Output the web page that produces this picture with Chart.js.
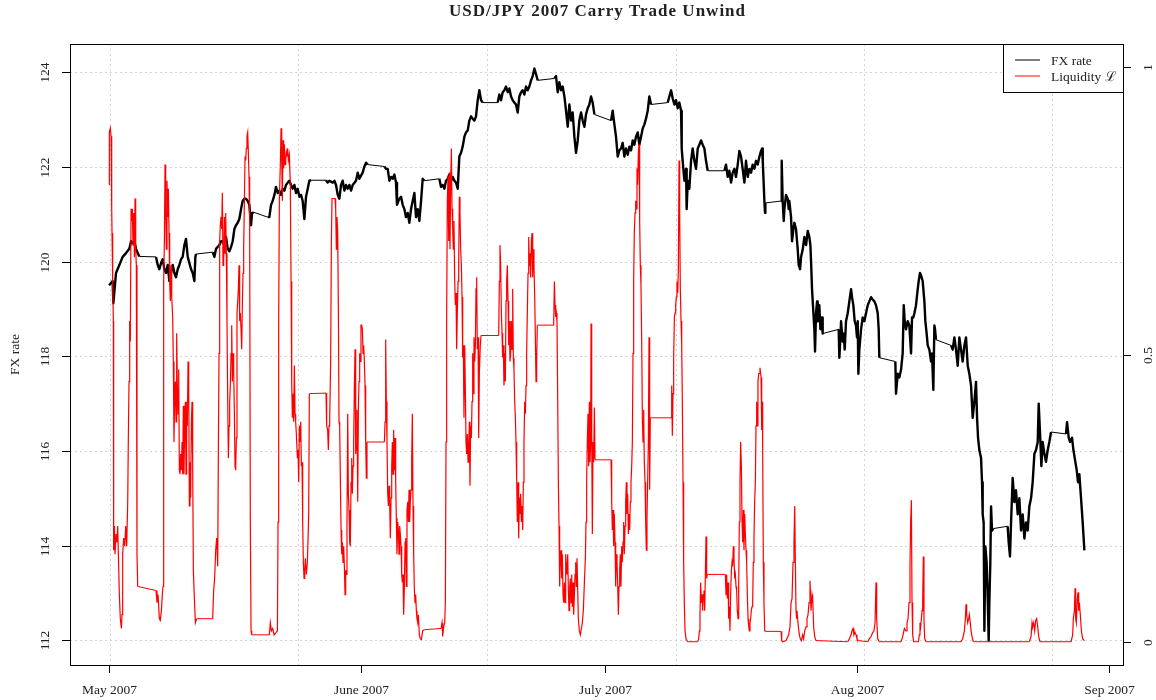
<!DOCTYPE html>
<html>
<head>
<meta charset="utf-8">
<title>USD/JPY 2007 Carry Trade Unwind</title>
<script src="https://cdn.jsdelivr.net/npm/chart.js@4.4.1/dist/chart.umd.min.js"></script>
<style>
  html, body { margin: 0; padding: 0; background: #fff; }
  #wrap { width: 1156px; height: 700px; }
</style>
</head>
<body>
<div id="wrap"><canvas id="fxChart" width="1156" height="700"></canvas></div>
<script>
// days since 1 May 2007 (weekends show up as straight joins)
const fxDays = [
  0.00,0.45,0.53,0.86,1.27,1.68,2.09,2.50,2.71,2.91,3.12,3.32,3.53,3.73,5.78,5.99,6.19,6.40,6.60,6.81,
  7.01,7.22,7.42,7.63,7.83,8.04,8.24,8.45,8.65,8.86,9.06,9.27,9.47,9.68,9.88,10.09,10.29,10.50,10.62,10.70,
  12.75,12.96,13.16,13.57,13.78,13.98,14.19,14.39,14.60,14.80,15.01,15.21,15.42,15.62,15.83,16.03,16.24,16.44,16.65,16.85,
  17.06,17.26,17.47,17.59,17.67,19.52,19.72,19.93,20.13,20.34,20.54,20.75,20.95,21.16,21.36,21.57,21.77,21.98,22.18,22.39,
  22.59,22.80,23.00,23.21,23.41,23.62,23.82,24.03,24.23,24.44,24.64,24.85,26.69,26.89,27.10,27.51,27.72,27.92,28.13,28.33,
  28.54,28.74,28.95,29.15,29.36,29.56,29.77,29.97,30.38,30.59,30.79,31.20,31.41,31.61,31.82,33.87,34.07,34.28,34.48,34.69,
  34.89,35.10,35.30,35.42,35.71,35.92,36.12,36.33,36.53,36.74,36.94,37.15,37.35,37.56,37.76,37.97,38.17,38.38,38.58,38.79,
  40.63,40.83,41.04,41.25,41.45,41.66,41.86,42.07,42.27,42.48,42.68,42.89,43.09,43.30,43.50,43.71,43.91,44.12,44.32,44.53,
  44.73,44.94,45.14,45.35,45.55,45.76,45.96,47.81,48.01,48.22,48.42,48.63,48.83,49.04,49.24,49.45,49.65,49.86,50.06,50.27,
  50.47,50.68,50.88,51.09,51.29,51.50,51.70,51.91,52.11,52.32,52.52,52.73,54.78,54.98,55.19,55.39,55.60,55.80,56.01,56.21,
  56.42,56.62,56.83,57.03,57.24,57.44,57.65,57.85,58.06,58.26,58.47,58.67,58.88,59.08,59.29,59.49,59.70,61.75,61.95,62.16,
  62.36,62.57,62.77,62.98,63.18,63.39,63.59,63.80,64.00,64.21,64.41,64.62,64.82,65.03,65.23,65.44,65.64,65.85,66.05,66.26,
  66.46,66.67,68.72,68.92,69.13,69.33,69.54,69.74,69.95,70.15,70.36,70.44,70.56,70.77,70.97,71.05,71.18,71.38,71.59,71.79,
  72.00,72.20,72.41,72.61,72.82,73.02,73.23,73.43,73.64,75.69,75.89,76.10,76.30,76.51,76.71,76.92,77.12,77.33,77.53,77.74,
  77.94,78.15,78.35,78.56,78.76,78.97,79.17,79.38,79.58,79.79,80.00,80.20,80.33,80.41,80.49,80.61,80.69,80.73,82.66,82.74,
  82.86,82.99,83.07,83.27,83.48,83.60,83.68,83.89,84.01,84.18,84.30,84.50,84.71,84.83,85.00,85.12,85.33,85.53,85.74,85.94,
  86.14,86.27,86.35,86.47,86.64,86.76,86.84,86.96,87.09,87.17,87.29,87.37,87.50,87.58,87.70,87.78,89.75,89.83,89.96,90.04,
  90.24,90.37,90.49,90.65,90.86,91.06,91.27,91.39,91.55,91.72,91.88,92.00,92.09,92.17,92.29,92.50,92.70,92.91,93.11,93.32,
  93.52,93.73,93.93,94.14,94.34,94.55,94.67,94.75,96.72,96.80,97.01,97.21,97.42,97.62,97.75,97.87,98.03,98.24,98.44,98.65,
  98.77,98.93,99.06,99.26,99.47,99.59,99.75,99.88,100.08,100.29,100.41,100.57,100.70,100.90,101.11,101.23,101.39,101.52,101.60,101.72,
  103.57,103.77,103.98,104.18,104.39,104.59,104.80,105.00,105.21,105.41,105.62,105.82,106.03,106.23,106.44,106.64,106.77,106.89,107.05,107.26,
  107.38,107.46,107.58,107.67,107.79,107.95,108.08,108.20,108.28,108.40,108.49,108.61,108.77,110.53,110.66,110.82,110.95,111.15,111.36,111.56,
  111.77,111.97,112.18,112.38,112.59,112.79,113.00,113.20,113.41,113.61,113.82,114.02,114.23,114.35,114.52,114.68,114.84,115.05,115.25,115.46,
  115.66,115.87,117.71,117.84,118.04,118.21,118.45,118.62,118.86,119.02,119.19,119.35,119.56,119.76,119.97
];
const fxRate = [
  119.50,119.59,119.12,119.76,119.93,120.10,120.18,120.27,120.43,120.39,120.43,120.27,120.18,120.11,120.10,119.93,119.84,119.97,120.05,119.84,
  119.76,119.93,119.59,119.76,119.93,119.76,119.67,119.84,119.93,120.05,120.10,120.35,120.48,120.10,119.97,119.84,119.76,119.59,120.10,120.16,
  120.20,120.10,120.27,120.35,120.43,120.43,120.35,120.52,120.27,120.22,120.31,120.43,120.69,120.77,120.82,120.90,121.11,121.28,121.33,121.33,
  121.28,121.20,120.77,121.03,121.05,120.94,120.94,121.20,121.28,121.41,121.58,121.45,121.50,121.41,121.54,121.50,121.62,121.67,121.71,121.62,
  121.54,121.62,121.45,121.54,121.37,121.41,121.28,120.90,121.37,121.54,121.71,121.72,121.72,121.67,121.71,121.67,121.71,121.62,121.41,121.33,
  121.62,121.71,121.50,121.62,121.54,121.62,121.50,121.62,121.71,121.88,121.75,121.88,122.01,122.09,122.05,122.01,121.96,121.96,121.71,121.79,
  121.75,121.84,121.67,121.20,121.33,121.37,121.20,121.11,120.94,121.03,120.82,121.11,121.28,121.45,120.94,121.11,120.86,121.28,121.75,121.71,
  121.75,121.58,121.62,121.54,121.71,121.75,121.84,121.71,121.79,121.71,121.67,121.54,122.22,122.30,122.43,122.64,122.73,122.77,122.98,123.07,
  123.02,122.98,123.07,123.41,123.62,123.41,123.36,123.36,123.53,123.41,123.58,123.62,123.70,123.58,123.66,123.49,123.41,123.36,123.32,123.15,
  123.49,123.58,123.62,123.53,123.70,123.62,123.70,123.83,123.92,124.08,123.96,123.83,123.87,123.92,123.58,123.79,123.62,123.70,123.49,123.19,
  122.85,123.32,122.98,123.15,122.64,122.30,122.56,122.98,123.15,122.98,122.85,123.11,123.24,123.32,123.49,123.36,123.11,122.98,123.19,122.90,
  122.64,122.22,122.35,122.39,122.51,122.22,122.39,122.26,122.43,122.35,122.56,122.47,122.64,122.73,122.47,122.64,122.81,122.90,123.02,123.19,
  123.49,123.32,123.36,123.49,123.62,123.45,123.32,123.41,123.24,123.36,123.19,122.39,122.13,121.71,121.96,121.11,121.71,121.54,122.13,122.39,
  122.13,121.96,122.39,122.47,122.56,122.47,122.39,122.13,121.92,121.92,122.05,121.79,121.92,121.67,121.88,121.96,121.79,122.05,122.34,122.22,
  121.96,121.67,122.13,121.79,121.96,121.88,122.05,121.96,122.13,122.05,122.22,122.34,122.39,122.13,121.79,121.28,121.03,121.24,121.28,122.13,
  121.28,120.86,121.11,121.41,121.33,121.11,121.28,120.94,120.43,120.69,120.82,120.69,120.26,119.93,119.84,120.10,120.26,120.52,120.35,120.65,
  120.52,120.35,120.01,119.42,118.91,118.57,118.10,118.91,119.16,118.74,118.82,119.08,118.57,118.74,118.82,118.48,118.57,117.97,118.40,118.74,
  118.31,118.48,118.14,118.74,118.91,119.16,119.42,119.25,119.08,118.74,118.65,118.40,118.74,117.63,118.14,118.57,118.82,118.74,118.91,119.08,
  119.16,119.25,119.20,119.16,119.08,118.91,118.57,117.97,117.89,117.21,117.63,117.55,117.72,118.06,119.08,118.74,118.57,118.74,118.65,118.06,
  118.82,118.82,118.91,119.08,119.42,119.59,119.76,119.71,119.59,119.16,118.74,118.48,118.23,118.14,117.89,118.06,117.29,118.65,118.57,118.35,
  118.23,118.14,118.40,118.14,117.80,118.40,118.14,117.89,118.23,118.40,117.80,117.63,117.38,116.70,117.04,117.46,116.70,116.28,116.02,115.85,
  115.34,114.66,114.49,112.20,113.98,113.64,112.88,111.99,112.79,113.64,114.83,114.32,114.36,114.41,114.07,113.77,114.49,115.43,114.92,115.17,
  114.66,115.00,114.32,114.66,114.15,114.49,114.32,114.83,115.00,115.34,115.94,116.02,116.19,117.00,116.36,115.68,116.19,115.94,115.77,116.02,
  116.19,116.40,116.36,116.61,116.28,116.19,116.28,116.02,115.77,115.60,115.34,115.51,115.00,114.49,113.90
];

const liqDays = [
  0.00,0.04,0.16,0.25,0.33,0.37,0.45,0.53,0.57,0.66,0.74,0.86,0.98,1.07,1.15,1.27,1.39,1.52,1.60,1.68,
  1.80,1.93,2.05,2.17,2.30,2.38,2.46,2.54,2.62,2.71,2.79,2.87,2.95,3.03,3.12,3.20,3.28,3.36,3.44,3.53,
  5.78,5.90,6.03,6.19,6.31,6.44,6.56,6.64,6.72,6.81,6.89,6.97,7.05,7.13,7.22,7.30,7.38,7.46,7.54,7.63,
  7.71,7.83,7.91,7.99,8.08,8.16,8.24,8.32,8.40,8.49,8.57,8.65,8.73,8.81,8.90,8.98,9.06,9.14,9.22,9.31,
  9.39,9.47,9.55,9.63,9.72,9.80,9.88,9.96,10.04,10.13,10.21,10.29,10.37,10.50,10.62,10.78,12.75,12.87,12.99,13.12,
  13.24,13.37,13.45,13.53,13.61,13.69,13.78,13.86,13.94,14.02,14.10,14.19,14.27,14.35,14.43,14.51,14.60,14.68,14.76,14.84,
  14.92,15.01,15.09,15.17,15.25,15.33,15.42,15.50,15.58,15.66,15.74,15.83,15.91,15.99,16.07,16.15,16.24,16.32,16.40,16.48,
  16.56,16.65,16.73,16.81,16.89,16.97,17.06,17.14,17.22,17.30,17.38,17.47,17.55,19.72,19.84,19.97,20.13,20.30,20.54,20.71,
  20.79,20.87,20.95,21.07,21.16,21.24,21.32,21.40,21.48,21.57,21.65,21.73,21.81,21.89,21.98,22.06,22.18,22.30,22.39,22.47,
  22.55,22.63,22.71,22.80,22.88,22.96,23.04,23.17,23.25,23.33,23.41,23.49,23.58,23.66,23.74,23.82,23.90,23.99,24.07,24.15,
  24.27,24.40,24.56,24.64,26.69,26.77,26.89,26.98,27.06,27.14,27.26,27.35,27.43,27.80,27.88,27.96,28.04,28.13,28.21,28.29,
  28.37,28.46,28.54,28.62,28.70,28.78,28.86,28.95,29.03,29.11,29.19,29.27,29.36,29.44,29.52,29.60,29.68,29.77,29.85,29.93,
  30.01,30.09,30.18,30.26,30.34,30.42,30.50,30.59,30.67,30.75,30.83,30.91,30.99,31.08,31.16,31.24,31.32,31.41,31.49,31.57,
  31.65,31.73,33.87,33.95,34.03,34.11,34.19,34.28,34.36,34.44,34.52,34.60,34.69,34.77,34.85,34.93,35.01,35.10,35.18,35.26,
  35.34,35.42,35.51,35.59,35.67,35.75,35.83,35.92,36.00,36.08,36.16,36.24,36.33,36.41,36.49,36.57,36.65,36.74,36.82,36.90,
  36.98,37.06,37.15,37.23,37.31,37.39,37.47,37.56,37.64,37.72,37.80,37.88,37.97,38.05,38.17,38.30,38.42,38.58,38.79,40.84,
  40.96,41.04,41.16,41.29,41.37,41.45,41.53,41.61,41.70,41.78,41.86,41.94,42.02,42.11,42.19,42.27,42.35,42.43,42.52,42.60,
  42.68,42.76,42.84,42.93,43.01,43.09,43.17,43.25,43.34,43.42,43.50,43.58,43.66,43.75,43.83,43.91,43.99,44.07,44.16,44.24,
  44.32,44.40,44.48,44.57,44.65,44.73,44.81,44.89,44.98,45.06,45.14,45.22,45.30,45.39,45.47,45.55,45.67,45.76,47.93,48.01,
  48.09,48.17,48.26,48.34,48.42,48.50,48.58,48.67,48.75,48.83,48.91,48.99,49.08,49.16,49.24,49.32,49.40,49.49,49.57,49.65,
  49.73,49.81,49.90,49.98,50.06,50.14,50.22,50.31,50.39,50.47,50.55,50.63,50.72,50.80,50.88,50.96,51.04,51.13,51.21,51.29,
  51.37,51.45,51.54,51.62,51.70,51.78,51.86,51.95,52.03,52.11,52.19,52.27,52.36,52.44,52.52,52.60,52.68,54.69,54.78,54.86,
  54.94,55.02,55.10,55.19,55.27,55.35,55.43,55.51,55.60,55.68,55.76,55.84,55.92,56.01,56.09,56.17,56.25,56.33,56.42,56.50,
  56.58,56.66,56.74,56.83,56.91,56.99,57.07,57.15,57.24,57.32,57.40,57.48,57.56,57.65,57.73,57.85,57.97,58.10,58.22,58.34,
  58.47,58.59,58.67,58.75,58.83,58.92,59.00,59.08,59.16,59.24,59.29,59.37,59.45,59.53,59.61,59.70,59.78,61.75,61.83,61.91,
  61.99,62.07,62.15,62.24,62.32,62.40,62.48,62.56,62.65,62.73,62.81,62.89,62.97,63.06,63.14,63.22,63.30,63.38,63.47,63.55,
  63.63,63.71,63.79,63.88,63.96,64.04,64.12,64.20,64.29,64.37,64.45,64.53,64.61,64.70,64.78,64.86,64.94,65.02,65.11,65.19,
  65.27,65.35,65.43,65.52,65.60,65.68,65.76,65.84,65.93,66.01,66.09,66.17,66.25,66.34,66.42,66.50,66.58,69.13,69.21,69.29,
  69.37,69.45,69.54,69.62,69.70,69.78,69.86,69.95,70.03,70.11,70.19,70.27,70.36,70.44,70.52,70.60,70.68,70.77,70.85,70.97,
  71.18,72.40,72.53,72.61,72.69,72.77,72.86,72.94,73.02,73.10,73.18,73.27,73.35,73.43,73.51,73.59,75.81,75.89,75.97,76.05,
  76.14,76.22,76.30,76.38,76.46,76.55,76.63,76.71,76.79,76.87,76.96,77.04,77.12,77.20,77.28,77.37,77.45,77.53,77.61,77.69,
  77.78,77.86,77.94,78.02,78.10,78.19,78.27,78.35,78.43,78.51,78.60,78.68,78.76,78.84,78.92,79.00,79.09,79.17,79.25,79.33,
  79.41,79.50,79.58,79.66,79.74,79.82,79.91,79.99,80.07,80.20,80.28,80.36,80.40,80.48,80.56,80.65,80.73,82.66,82.74,82.86,
  83.27,83.60,83.76,83.89,84.01,84.13,84.25,84.34,84.42,84.50,84.58,84.66,84.79,84.91,85.03,85.16,85.32,85.44,85.57,85.73,
  85.85,85.98,86.10,86.22,86.35,86.47,86.55,86.67,86.80,86.96,90.86,91.06,91.27,91.39,91.51,91.63,91.76,91.88,92.00,92.17,
  93.32,93.52,93.73,93.93,94.09,94.22,94.34,94.42,94.55,94.75,97.42,97.62,97.83,98.03,98.15,98.28,98.40,98.52,98.60,98.69,
  98.77,98.85,98.97,99.55,99.67,99.75,99.83,99.92,100.00,100.08,100.16,100.24,100.33,100.49,104.80,105.00,105.21,105.33,105.41,105.49,
  105.62,105.74,105.82,105.94,106.03,106.15,106.31,113.20,113.41,113.53,113.61,113.73,113.86,113.98,114.10,114.23,114.35,114.51,118.33,118.53,
  118.61,118.74,118.82,118.90,118.98,119.10,119.19,119.27,119.35,119.47,119.60,119.76,119.97
];
const liqValue = [
  0.795,0.886,0.893,0.879,0.753,0.711,0.627,0.558,0.160,0.202,0.153,0.188,0.174,0.202,0.153,0.083,0.041,0.024,0.048,0.153,
  0.181,0.167,0.202,0.167,0.244,0.362,0.453,0.558,0.523,0.753,0.732,0.753,0.690,0.746,0.669,0.771,0.683,0.655,0.153,0.097,
  0.090,0.069,0.083,0.041,0.038,0.055,0.083,0.097,0.627,0.697,0.830,0.753,0.683,0.802,0.739,0.788,0.711,0.627,0.593,0.655,
  0.600,0.565,0.488,0.348,0.432,0.453,0.383,0.537,0.453,0.397,0.474,0.299,0.292,0.327,0.299,0.348,0.292,0.411,0.292,0.376,
  0.418,0.292,0.418,0.376,0.488,0.446,0.237,0.313,0.251,0.383,0.418,0.313,0.125,0.076,0.034,0.041,0.041,0.090,0.111,0.160,
  0.181,0.132,0.334,0.502,0.697,0.725,0.739,0.718,0.781,0.655,0.662,0.739,0.676,0.746,0.676,0.558,0.418,0.320,0.376,0.418,
  0.446,0.502,0.551,0.453,0.502,0.474,0.397,0.306,0.299,0.355,0.572,0.593,0.614,0.655,0.558,0.572,0.544,0.509,0.586,0.641,
  0.683,0.767,0.844,0.837,0.858,0.879,0.886,0.851,0.809,0.725,0.209,0.020,0.013,0.013,0.034,0.020,0.024,0.013,0.017,0.020,
  0.209,0.558,0.767,0.830,0.893,0.837,0.767,0.872,0.823,0.865,0.830,0.837,0.851,0.844,0.858,0.837,0.847,0.795,0.627,0.453,
  0.390,0.432,0.383,0.481,0.397,0.383,0.362,0.320,0.334,0.278,0.376,0.348,0.383,0.306,0.313,0.209,0.139,0.111,0.125,0.146,
  0.118,0.139,0.223,0.432,0.433,0.376,0.369,0.334,0.376,0.383,0.488,0.697,0.771,0.771,0.753,0.683,0.739,0.711,0.579,0.383,
  0.376,0.278,0.195,0.153,0.174,0.139,0.167,0.132,0.083,0.125,0.118,0.209,0.397,0.258,0.230,0.174,0.167,0.278,0.320,0.258,
  0.306,0.348,0.446,0.509,0.327,0.341,0.404,0.244,0.404,0.453,0.502,0.488,0.551,0.551,0.544,0.502,0.516,0.488,0.446,0.348,
  0.285,0.348,0.348,0.383,0.526,0.418,0.348,0.258,0.237,0.272,0.244,0.181,0.251,0.306,0.348,0.292,0.369,0.299,0.355,0.278,
  0.216,0.153,0.209,0.195,0.153,0.202,0.188,0.167,0.118,0.104,0.118,0.048,0.097,0.174,0.181,0.097,0.230,0.244,0.209,0.265,
  0.209,0.244,0.265,0.320,0.397,0.237,0.153,0.090,0.069,0.083,0.055,0.041,0.034,0.048,0.013,0.006,0.005,0.020,0.022,0.024,
  0.034,0.010,0.027,0.034,0.069,0.348,0.558,0.767,0.809,0.697,0.816,0.683,0.795,0.858,0.753,0.718,0.683,0.732,0.627,0.586,
  0.607,0.509,0.572,0.627,0.662,0.774,0.746,0.683,0.655,0.600,0.495,0.516,0.390,0.516,0.439,0.348,0.327,0.362,0.313,0.341,
  0.383,0.272,0.376,0.355,0.418,0.502,0.432,0.530,0.488,0.516,0.614,0.634,0.509,0.530,0.355,0.467,0.516,0.533,0.533,0.627,
  0.690,0.655,0.572,0.537,0.495,0.516,0.446,0.502,0.453,0.593,0.627,0.655,0.593,0.516,0.558,0.488,0.502,0.558,0.509,0.614,
  0.495,0.474,0.418,0.390,0.348,0.285,0.209,0.278,0.181,0.251,0.223,0.258,0.209,0.237,0.195,0.278,0.348,0.418,0.397,0.446,
  0.502,0.572,0.641,0.704,0.655,0.676,0.634,0.697,0.711,0.634,0.683,0.655,0.600,0.530,0.453,0.488,0.551,0.551,0.627,0.586,
  0.565,0.572,0.558,0.418,0.278,0.202,0.097,0.146,0.160,0.111,0.153,0.083,0.069,0.104,0.069,0.153,0.132,0.118,0.153,0.090,
  0.055,0.097,0.111,0.069,0.118,0.062,0.104,0.048,0.083,0.118,0.139,0.097,0.146,0.090,0.041,0.020,0.013,0.024,0.034,0.055,
  0.104,0.146,0.209,0.278,0.348,0.397,0.306,0.418,0.313,0.348,0.554,0.362,0.188,0.348,0.313,0.408,0.317,0.317,0.244,0.195,
  0.230,0.167,0.223,0.174,0.097,0.153,0.139,0.104,0.048,0.097,0.125,0.153,0.097,0.167,0.139,0.174,0.209,0.153,0.202,0.244,
  0.278,0.223,0.258,0.188,0.223,0.195,0.244,0.278,0.306,0.348,0.502,0.627,0.711,0.746,0.767,0.753,0.823,0.795,0.851,0.865,
  0.732,0.655,0.621,0.523,0.390,0.348,0.404,0.313,0.278,0.209,0.160,0.216,0.278,0.348,0.530,0.265,0.390,0.390,0.446,0.359,
  0.432,0.495,0.565,0.572,0.586,0.600,0.627,0.607,0.648,0.837,0.746,0.614,0.558,0.516,0.418,0.278,0.139,0.062,0.020,0.006,
  0.001,0.001,0.006,0.020,0.048,0.104,0.069,0.083,0.055,0.083,0.090,0.055,0.118,0.184,0.111,0.118,0.118,0.083,0.118,0.076,
  0.104,0.041,0.062,0.020,0.083,0.125,0.139,0.132,0.167,0.146,0.111,0.118,0.097,0.090,0.055,0.041,0.097,0.209,0.278,0.348,
  0.306,0.209,0.174,0.230,0.160,0.223,0.188,0.160,0.139,0.083,0.041,0.027,0.020,0.034,0.041,0.055,0.062,0.069,0.139,0.181,
  0.244,0.278,0.376,0.418,0.376,0.453,0.467,0.467,0.477,0.460,0.369,0.418,0.334,0.139,0.069,0.020,0.019,0.019,0.003,0.001,
  0.003,0.013,0.027,0.069,0.076,0.139,0.174,0.237,0.139,0.055,0.041,0.048,0.027,0.013,0.006,0.003,0.013,0.006,0.020,0.027,
  0.041,0.048,0.069,0.107,0.055,0.083,0.076,0.027,0.010,0.003,0.001,0.006,0.013,0.020,0.024,0.013,0.017,0.013,0.006,0.003,
  0.001,0.006,0.010,0.017,0.020,0.034,0.104,0.041,0.006,0.001,0.001,0.010,0.024,0.020,0.034,0.041,0.069,0.132,0.209,0.247,
  0.069,0.013,0.001,0.001,0.013,0.034,0.027,0.041,0.055,0.069,0.149,0.041,0.006,0.001,0.001,0.006,0.020,0.041,0.066,0.048,
  0.034,0.041,0.048,0.034,0.020,0.010,0.001,0.001,0.010,0.034,0.027,0.034,0.020,0.038,0.041,0.027,0.010,0.001,0.001,0.013,
  0.041,0.055,0.094,0.041,0.034,0.076,0.087,0.055,0.069,0.048,0.020,0.006,0.003
];

const monthTickDays = [0, 31, 61, 92, 123];
const monthTickLabels = ["May 2007", "June 2007", "July 2007", "Aug 2007", "Sep 2007"];
const gridDays = [0.16, 23.3, 46.5, 69.7, 92.9, 116.0];
const fxTicks = [112, 114, 116, 118, 120, 122, 124];
const liqTicks = [0, 0.5, 1];
const liqTickLabels = ["0", "0.5", "1"];

const SERIF = "'Liberation Serif', 'DejaVu Serif', serif";
const TEXT = "#222";

const fxPoints = fxDays.map((d, i) => ({ x: d, y: fxRate[i] }));
const liqPoints = liqDays.map((d, i) => ({ x: d, y: liqValue[i] }));

// weekend joins (more than a day apart) stay hairline, trading hours look dense
function gapWidth(thin, thick) {
  return c => (c.p1.parsed.x - c.p0.parsed.x > 1 ? thin : thick);
}

// R style frame: box, outside ticks, rotated y labels, dotted grid, boxed legend
const baseGraphics = {
  id: "baseGraphics",
  beforeDatasetsDraw(chart) {
    const { ctx, chartArea: a, scales } = chart;
    ctx.save();
    ctx.strokeStyle = "#d3d3d3";
    ctx.lineWidth = 1;
    ctx.setLineDash([2, 3]);
    gridDays.forEach(d => {
      const x = Math.round(scales.x.getPixelForValue(d)) + 0.5;
      ctx.beginPath(); ctx.moveTo(x, a.top); ctx.lineTo(x, a.bottom); ctx.stroke();
    });
    fxTicks.forEach(v => {
      const y = Math.round(scales.yFx.getPixelForValue(v)) + 0.5;
      ctx.beginPath(); ctx.moveTo(a.left, y); ctx.lineTo(a.right, y); ctx.stroke();
    });
    ctx.restore();
  },
  afterDatasetsDraw(chart) {
    const { ctx, chartArea: a, scales } = chart;
    ctx.save();
    ctx.strokeStyle = "#000";
    ctx.lineWidth = 1;
    ctx.strokeRect(Math.round(a.left) + 0.5, Math.round(a.top) + 0.5,
                   Math.round(a.right - a.left), Math.round(a.bottom - a.top));

    ctx.fillStyle = TEXT;
    ctx.font = "13.5px " + SERIF;

    // left axis
    fxTicks.forEach(v => {
      const y = Math.round(scales.yFx.getPixelForValue(v)) + 0.5;
      ctx.beginPath(); ctx.moveTo(a.left - 8, y); ctx.lineTo(a.left, y); ctx.stroke();
      ctx.save();
      ctx.translate(a.left - 25, y);
      ctx.rotate(-Math.PI / 2);
      ctx.textAlign = "center"; ctx.textBaseline = "middle";
      ctx.fillText(String(v), 0, 0);
      ctx.restore();
    });

    // right axis
    liqTicks.forEach((v, i) => {
      const y = Math.round(scales.yLiq.getPixelForValue(v)) + 0.5;
      ctx.beginPath(); ctx.moveTo(a.right, y); ctx.lineTo(a.right + 8, y); ctx.stroke();
      ctx.save();
      ctx.translate(a.right + 25, y);
      ctx.rotate(-Math.PI / 2);
      ctx.textAlign = "center"; ctx.textBaseline = "middle";
      ctx.fillText(liqTickLabels[i], 0, 0);
      ctx.restore();
    });

    // bottom axis
    monthTickDays.forEach((d, i) => {
      const x = Math.round(scales.x.getPixelForValue(d)) + 0.5;
      ctx.beginPath(); ctx.moveTo(x, a.bottom); ctx.lineTo(x, a.bottom + 8); ctx.stroke();
      ctx.textAlign = "center"; ctx.textBaseline = "middle";
      ctx.fillText(monthTickLabels[i], x, a.bottom + 25);
    });

    // y title
    ctx.save();
    ctx.translate(15, (a.top + a.bottom) / 2);
    ctx.rotate(-Math.PI / 2);
    ctx.textAlign = "center"; ctx.textBaseline = "middle";
    ctx.fillText("FX rate", 0, 0);
    ctx.restore();

    // main title
    ctx.font = "bold 17px " + SERIF;
    ctx.letterSpacing = "1px";
    ctx.textAlign = "center"; ctx.textBaseline = "middle";
    ctx.fillText("USD/JPY 2007 Carry Trade Unwind", (a.left + a.right) / 2 + 1, 12);
    ctx.letterSpacing = "0px";

    // legend
    const lx = a.right - 120, ly = a.top;
    ctx.fillStyle = "#fff";
    ctx.fillRect(lx, ly, 120, 48);
    ctx.strokeStyle = "#000";
    ctx.strokeRect(Math.round(lx) + 0.5, Math.round(ly) + 0.5, 120, 48);
    chart.data.datasets.forEach((ds, i) => {
      const y = ly + 16 + i * 16;
      ctx.strokeStyle = ds.borderColor;
      ctx.lineWidth = 1;
      ctx.beginPath(); ctx.moveTo(lx + 12, y); ctx.lineTo(lx + 37, y); ctx.stroke();
      ctx.fillStyle = TEXT;
      ctx.font = "13.5px " + SERIF;
      ctx.textAlign = "left"; ctx.textBaseline = "middle";
      ctx.fillText(ds.label, lx + 48, y + 1);
    });
    ctx.restore();
  }
};

new Chart(document.getElementById("fxChart"), {
  type: "line",
  data: {
    datasets: [
      { label: "FX rate", data: fxPoints, yAxisID: "yFx", borderColor: "#000",
        borderWidth: 2.4, borderJoinStyle: "round", pointRadius: 0, tension: 0, order: 1,
        segment: { borderWidth: gapWidth(1, 2.4) } },
      { label: "Liquidity \u2112", data: liqPoints, yAxisID: "yLiq", borderColor: "#ff0000",
        borderWidth: 1.2, pointRadius: 0, tension: 0, order: 0,
        segment: { borderWidth: gapWidth(1, 1.2) } }
    ]
  },
  options: {
    responsive: false,
    animation: false,
    devicePixelRatio: 1,
    layout: { padding: { left: 70, top: 44, right: 33, bottom: 35 } },
    scales: {
      x: { type: "linear", min: -4.8, max: 124.72, display: false },
      yFx: { type: "linear", position: "left", min: 111.478, max: 124.598, display: false },
      yLiq: { type: "linear", position: "right", min: -0.0394, max: 1.0394, display: false }
    },
    plugins: { legend: { display: false }, tooltip: { enabled: false } }
  },
  plugins: [baseGraphics]
});
</script>
</body>
</html>
